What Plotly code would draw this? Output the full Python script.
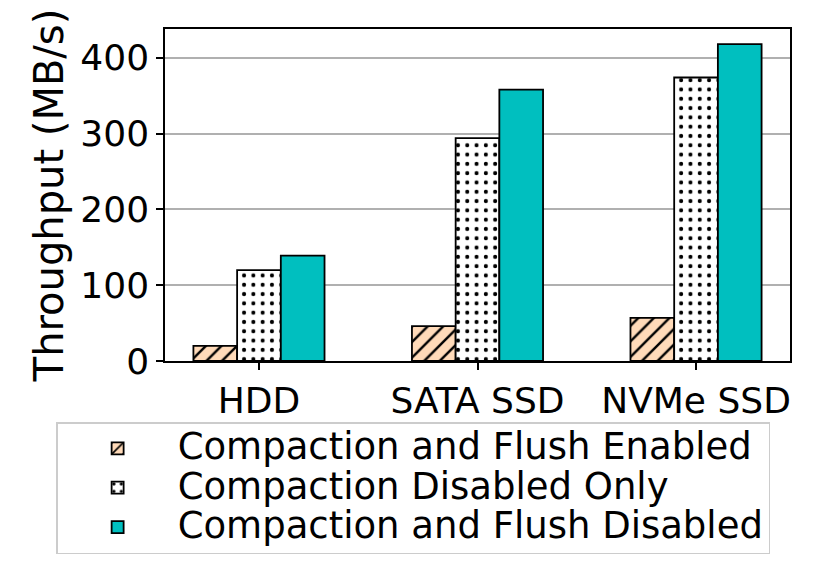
import plotly.graph_objects as go

categories = ["HDD", "SATA SSD", "NVMe SSD"]
series_names = [
    "Compaction and Flush Enabled",
    "Compaction Disabled Only",
    "Compaction and Flush Disabled",
]
enabled = [20, 46, 57]
compaction_disabled = [120, 294, 374]
both_disabled = [139, 358, 418]
y_ticks = [0, 100, 200, 300, 400]

FONT = "DejaVu Sans"


def big(name):
    return '<span style="font-size:37px">' + name + "</span>"


fig = go.Figure()
fig.add_trace(go.Bar(
    name=big(series_names[0]), x=categories, y=enabled,
    marker=dict(color="#FFDAB9", line=dict(color="black", width=1.8),
                pattern=dict(shape="/", fgcolor="black", bgcolor="#FFDAB9",
                             fgopacity=1, size=11, solidity=0.22, fillmode="overlay")),
))
fig.add_trace(go.Bar(
    name=big(series_names[1]), x=categories, y=compaction_disabled,
    marker=dict(color="white", line=dict(color="black", width=1.8),
                pattern=dict(shape=".", fgcolor="black", bgcolor="white",
                             fgopacity=1, size=9.3, solidity=0.15, fillmode="overlay")),
))
fig.add_trace(go.Bar(
    name=big(series_names[2]), x=categories, y=both_disabled,
    marker=dict(color="#00BFBF", line=dict(color="black", width=1.8)),
))

fig.update_layout(
    width=822, height=573,
    margin=dict(l=157, r=40, t=21, b=220, autoexpand=False),
    paper_bgcolor="white", plot_bgcolor="white",
    barmode="group", bargap=0.4, bargroupgap=0,
    font=dict(family=FONT, size=36, color="black"),
    legend=dict(
        x=0.397, xanchor="center", y=-0.184, yanchor="top",
        bordercolor="#cccccc", borderwidth=1.5, bgcolor="white",
        font=dict(family=FONT, size=28, color="black"),
        traceorder="normal", itemwidth=110,
    ),
    showlegend=True,
)
fig.update_xaxes(
    type="category", range=[-0.43, 2.43], automargin=False,
    showline=True, mirror=True, linecolor="black", linewidth=1.5,
    ticks="outside", ticklen=7, tickwidth=1.5, tickcolor="black",
    showgrid=False, tickfont=dict(family=FONT, size=36),
)
fig.update_yaxes(
    range=[0, 438], tickvals=y_ticks, automargin=False,
    showline=True, mirror=True, linecolor="black", linewidth=1.5,
    ticks="outside", ticklen=7, tickwidth=1.5, tickcolor="black",
    showgrid=True, gridcolor="#b0b0b0", gridwidth=1.5,
    zeroline=False, tickfont=dict(family=FONT, size=36),
    title=dict(text="Throughput (MB/s)", font=dict(family=FONT, size=40), standoff=4),
)

fig.write_html("out.html")
